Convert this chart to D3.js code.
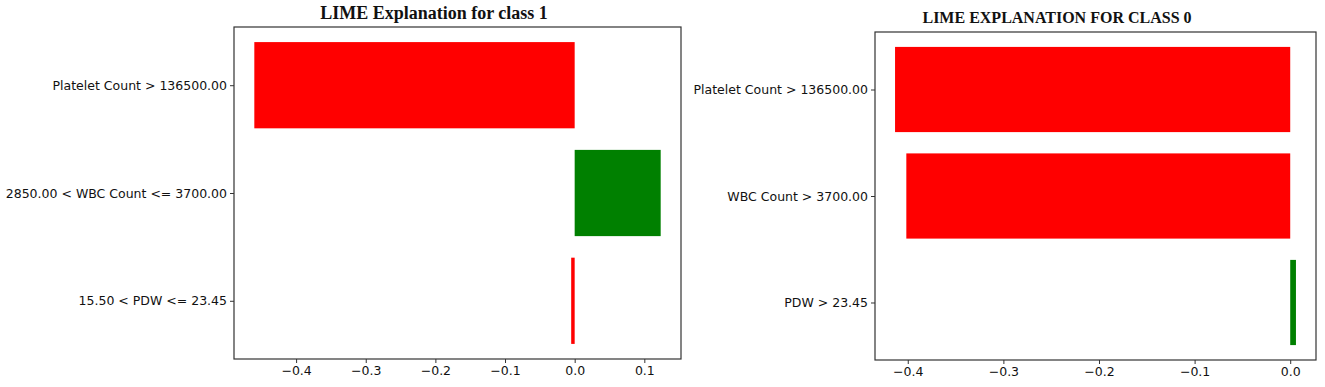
<!DOCTYPE html>
<html>
<head>
<meta charset="utf-8">
<script src="https://cdn.jsdelivr.net/npm/d3@7"></script>
<style>
  html, body { margin: 0; padding: 0; background: #fff; }
  svg { display: block; }
</style>
</head>
<body>
<div id="chart"></div>
<script>
// ── Data (bottom to top, as matplotlib barh draws them) ─────────────────────
const features1 = ['15.50 < PDW <= 23.45', '2850.00 < WBC Count <= 3700.00', 'Platelet Count > 136500.00'];
const weights1  = [-0.005, 0.1235, -0.46];
const ticks1    = [-0.4, -0.3, -0.2, -0.1, 0.0, 0.1];

const features0 = ['PDW > 23.45', 'WBC Count > 3700.00', 'Platelet Count > 136500.00'];
const weights0  = [0.006, -0.4015, -0.4133];
const ticks0    = [-0.4, -0.3, -0.2, -0.1, 0.0];

const W = 1325, H = 387;

const svg = d3.select('#chart').append('svg')
  .attr('width', W)
  .attr('height', H);

// ── One LIME panel ───────────────────────────────────────────────────────────
function drawPanel(opts) {
  const { features, weights, ticks, frame, title, titleX, titleY, titleSize } = opts;

  // matplotlib-style 5% margins around the data
  const lo = Math.min(0, d3.min(weights)), hi = Math.max(0, d3.max(weights));
  const padX = (hi - lo) * 0.05;
  const x = d3.scaleLinear()
    .domain([lo - padX, hi + padX])
    .range([frame.x0, frame.x1]);

  const barH = 0.8;
  const yLo = -barH / 2, yHi = features.length - 1 + barH / 2;
  const padY = (yHi - yLo) * 0.05;
  const y = d3.scaleLinear()
    .domain([yLo - padY, yHi + padY])
    .range([frame.y1, frame.y0]);

  const g = svg.append('g');

  // Bars
  g.selectAll('rect.bar')
    .data(weights)
    .join('rect')
    .attr('class', 'bar')
    .attr('x', d => x(Math.min(0, d)))
    .attr('width', d => Math.abs(x(d) - x(0)))
    .attr('y', (d, i) => y(i + barH / 2))
    .attr('height', (d, i) => y(i - barH / 2) - y(i + barH / 2))
    .attr('fill', d => d > 0 ? '#008000' : '#ff0000');

  // Frame
  g.append('rect')
    .attr('x', frame.x0)
    .attr('y', frame.y0)
    .attr('width', frame.x1 - frame.x0)
    .attr('height', frame.y1 - frame.y0)
    .attr('fill', 'none')
    .attr('stroke', '#333')
    .attr('stroke-width', 1.2);

  // X axis
  g.append('g')
    .attr('transform', `translate(0,${frame.y1})`)
    .call(d3.axisBottom(x).tickValues(ticks).tickFormat(d3.format('.1f')).tickSize(4).tickPadding(3))
    .call(ax => ax.select('.domain').remove())
    .call(ax => ax.selectAll('line').attr('stroke', '#333'))
    .call(ax => ax.selectAll('text')
      .attr('fill', '#111')
      .style('font-family', '"DejaVu Sans", sans-serif')
      .style('font-size', '12.5px'));

  // Y axis
  g.append('g')
    .attr('transform', `translate(${frame.x0},0)`)
    .call(d3.axisLeft(y).tickValues(d3.range(features.length)).tickFormat(i => features[i]).tickSize(4).tickPadding(3))
    .call(ax => ax.select('.domain').remove())
    .call(ax => ax.selectAll('line').attr('stroke', '#333'))
    .call(ax => ax.selectAll('text')
      .attr('fill', '#111')
      .style('font-family', '"DejaVu Sans", sans-serif')
      .style('font-size', '12.5px'));

  // Title
  g.append('text')
    .attr('x', titleX)
    .attr('y', titleY)
    .attr('text-anchor', 'middle')
    .attr('fill', '#111')
    .style('font-family', '"Liberation Serif", "Times New Roman", serif')
    .style('font-weight', 'bold')
    .style('font-size', titleSize)
    .text(title);
}

drawPanel({
  features: features1, weights: weights1, ticks: ticks1,
  frame: { x0: 234, x1: 681, y0: 27, y1: 359 },
  title: 'LIME Explanation for class 1', titleX: 434, titleY: 19, titleSize: '18px'
});

drawPanel({
  features: features0, weights: weights0, ticks: ticks0,
  frame: { x0: 875, x1: 1316, y0: 32, y1: 360 },
  title: 'LIME EXPLANATION FOR CLASS 0', titleX: 1057, titleY: 23, titleSize: '16px'
});
</script>
</body>
</html>
